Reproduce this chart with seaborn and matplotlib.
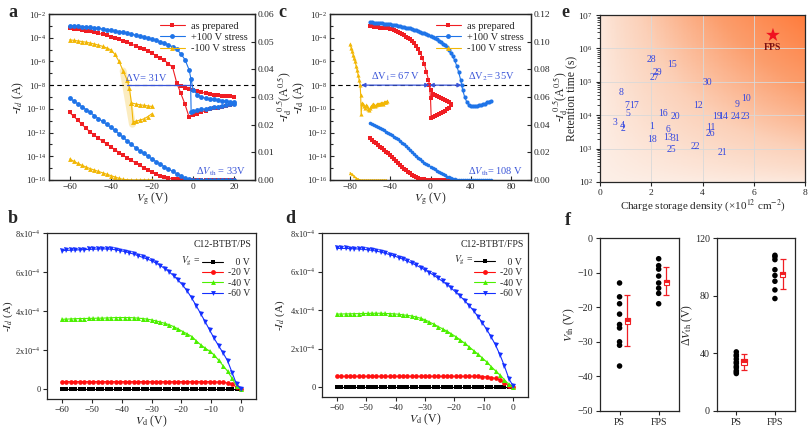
import numpy as np
import pandas as pd
import matplotlib
matplotlib.use("Agg")
import matplotlib.pyplot as plt
import seaborn as sns
from matplotlib.lines import Line2D
from matplotlib.patches import Rectangle
from matplotlib.colors import LinearSegmentedColormap
from matplotlib.ticker import FixedLocator, NullFormatter

sns.set_style("ticks")
plt.rcParams["font.family"] = ["Liberation Serif", "DejaVu Serif"]
plt.rcParams["mathtext.fontset"] = "stix"
plt.rcParams["font.size"] = 7.5

RED = "#f01e23"
BLUE = "#1f74e8"
YEL = "#f2b705"
GRN = "#4cf000"
TXTBLUE = "#3a55d8"
TICK = 6.8

# ---------------- panel a (transfer, PS) ----------------
A_VG = [-60, -58, -56, -54, -52, -50, -48, -46, -44, -42, -40, -38, -36, -34, -32, -30, -28, -26, -24, -22,
        -20, -18, -16, -14, -12, -10, -8, -6, -4, -2, 0, 2, 4, 6, 8, 10, 12, 14, 16, 18, 20]
A_RED_LOG = [-3.20, -3.24, -3.29, -3.34, -3.40, -3.47, -3.55, -3.63, -3.72, -3.81, -3.92, -4.03, -4.15, -4.27,
             -4.40, -4.54, -4.68, -4.83, -4.98, -5.14, -5.32, -5.50, -5.70, -5.92, -6.18, -6.50, -7.80, -8.70,
             -9.60, -10.70, -10.55, -10.40, -10.25, -10.15, -10.05, -9.95, -9.90, -9.85, -9.78, -9.70, -9.62]
A_RED_BWD_VG = [20, 18, 16, 14, 12, 10, 8, 6, 4, 2, 0, -2, -4, -6, -8]
A_RED_BWD_LOG = [-8.96, -8.94, -8.92, -8.88, -8.85, -8.80, -8.75, -8.68, -8.60, -8.50, -8.40, -8.30, -8.20, -8.10, -7.80]
A_BLUE_LOG = [-2.98, -3.00, -3.03, -3.06, -3.09, -3.13, -3.17, -3.21, -3.26, -3.31, -3.37, -3.43, -3.49, -3.56,
              -3.63, -3.70, -3.78, -3.86, -3.95, -4.04, -4.13, -4.23, -4.34, -4.46, -4.60, -4.76, -4.98, -5.35,
              -5.85, -6.70, -8.40, -8.80, -9.00, -9.10, -9.15, -9.20, -9.25, -9.30, -9.35, -9.40, -9.45]
A_BLUE_BWD_VG = [20, 18, 16, 14, 12, 10, 8, 6, 4, 2, 0, -1, -1.3]
A_BLUE_BWD_LOG = [-9.55, -9.62, -9.70, -9.76, -9.82, -9.88, -9.94, -10.00, -10.05, -10.12, -10.20, -10.25, -7.5]
A_YEL_VG = [-60, -58, -56, -54, -52, -50, -48, -46, -44, -42, -40, -38, -36, -34, -32, -31, -30, -29.2,
            -28, -26, -24, -22, -20]
A_YEL_LOG = [-4.18, -4.22, -4.27, -4.32, -4.38, -4.45, -4.53, -4.62, -4.73, -4.86, -5.02, -5.40, -6.00, -6.80,
             -7.60, -8.20, -9.50, -11.10, -11.05, -10.95, -10.85, -10.65, -10.40]
A_YEL_BWD_VG = [-20, -22, -24, -26, -28, -30]
A_YEL_BWD_LOG = [-9.80, -9.75, -9.70, -9.65, -9.58, -9.50]
A_RED_SQRT = [.0244, .0230, .0216, .0201, .0187, .0173, .0162, .0151, .0140, .0130, .0120, .0110, .0099, .0089,
              .0080, .0071, .0062, .0053, .0044, .0036, .0029, .0022, .0016, .0011, .0007, .0005, .0003, .0002,
              .0001, 0, 0, 0, 0, 0, 0, 0, 0, 0, 0, 0, 0]
A_BLUE_SQRT = [.0296, .0286, .0275, .0265, .0254, .0244, .0233, .0222, .0212, .0201, .0191, .0179, .0167, .0154,
               .0141, .0129, .0117, .0106, .0096, .0086, .0076, .0066, .0057, .0048, .0040, .0031, .0023, .0015,
               .0007, .0002, 0, 0, 0, 0, 0, 0, 0, 0, 0, 0, 0]
A_YEL_SQRT_VG = [-60, -58, -56, -54, -52, -50, -48, -46, -44, -42, -40, -38, -36, -34, -32, -30, -28, -26, -24, -22, -20]
A_YEL_SQRT = [.0076, .0068, .0060, .0053, .0047, .0041, .0036, .0031, .0026, .0021, .0016, .0011, .0006, .0002,
              .0001, 0, 0, 0, 0, 0, 0]

# ---------------- panel c (transfer, FPS) ----------------
C_RED_VG = [-60, -58, -56, -54, -52, -50, -48, -46, -44, -42, -40, -38, -36, -34, -32, -30, -28, -26, -24, -22,
            -20, -18, -16, -14, -12, -10, -8, -6, -4, -2, -1, 0, 0.7, 2, 4, 6, 8, 10, 12, 14, 16, 18, 20]
C_RED_LOG = [-3.00, -3.03, -3.06, -3.09, -3.12, -3.14, -3.16, -3.18, -3.20, -3.22, -3.25, -3.30, -3.36, -3.43,
             -3.51, -3.60, -3.68, -3.78, -3.90, -4.00, -4.12, -4.30, -4.48, -4.68, -4.95, -5.25, -5.75, -6.25,
             -6.90, -7.55, -8.00, -9.10, -10.75, -10.70, -10.60, -10.50, -10.42, -10.35, -10.25, -10.15, -10.05,
             -9.90, -9.70]
C_RED_BWD_VG = [20, 18, 16, 14, 12, 10, 8, 6, 4, 2, 0, -1]
C_RED_BWD_LOG = [-9.60, -9.45, -9.35, -9.25, -9.17, -9.10, -9.02, -8.93, -8.85, -8.72, -8.40, -8.00]
C_BLUE_VG = [-60, -58, -56, -54, -52, -50, -48, -46, -44, -42, -40, -38, -36, -34, -32, -30, -28, -26, -24, -22,
             -20, -18, -16, -14, -12, -10, -8, -6, -4, -2, 0, 2, 4, 6, 8, 10, 12, 14, 16, 18, 20, 22, 24, 26,
             28, 30, 31, 32, 34, 36, 38, 40, 42, 44, 46, 48, 50, 52, 54, 56, 58, 60]
C_BLUE_LOG = [-2.70, -2.71, -2.72, -2.73, -2.75, -2.77, -2.79, -2.81, -2.83, -2.85, -2.87, -2.90, -2.93, -2.96,
              -2.99, -3.02, -3.06, -3.10, -3.14, -3.17, -3.20, -3.25, -3.31, -3.37, -3.43, -3.50, -3.57, -3.64,
              -3.71, -3.78, -3.85, -3.94, -4.04, -4.14, -4.25, -4.37, -4.50, -4.65, -4.82, -5.02, -5.25, -5.55,
              -5.90, -6.35, -6.90, -7.55, -8.00, -8.40, -9.00, -9.40, -9.65, -9.75, -9.78, -9.75, -9.72, -9.70,
              -9.65, -9.62, -9.55, -9.45, -9.38, -9.30]
C_YEL_VG = [-80, -79, -78, -77, -76, -75, -74, -73, -72, -71, -70, -69.5, -69, -68, -67, -66, -65, -64, -63, -62,
            -61, -60, -59, -58, -57, -56, -55, -54, -53, -52, -51, -50, -49, -48, -47, -46, -45, -44, -43]
C_YEL_LOG = [-4.55, -4.85, -5.15, -5.45, -5.75, -6.00, -6.40, -6.75, -7.15, -7.55, -8.00, -8.80, -10.45, -9.50,
             -9.60, -9.75, -9.95, -9.70, -9.80, -10.05, -10.10, -9.95, -9.80, -9.75, -9.55, -9.65, -9.80, -9.70,
             -9.60, -9.55, -9.60, -9.55, -9.50, -9.50, -9.55, -9.45, -9.40, -9.42, -9.35]
C_BLUE_SQRT_VG = [-60, -58, -56, -54, -52, -50, -48, -46, -44, -42, -40, -38, -36, -34, -32, -30, -28, -26, -24,
                  -22, -20, -18, -16, -14, -12, -10, -8, -6, -4, -2, 0, 2, 4, 6, 8, 10, 12, 14, 16, 18, 20, 22,
                  24, 26, 28, 30, 32, 34, 36, 38, 40, 42, 44, 46, 48, 50, 52, 54, 56, 58, 60]
C_BLUE_SQRT = [.0414, .0406, .0398, .0390, .0382, .0375, .0367, .0359, .0350, .0341, .0332, .0323, .0314, .0306,
               .0295, .0283, .0270, .0257, .0243, .0229, .0214, .0200, .0187, .0174, .0162, .0150, .0137, .0125,
               .0114, .0105, .0097, .0087, .0077, .0067, .0058, .0049, .0041, .0033, .0025, .0019, .0013, .0008,
               .0004, .0002, .0001, 0, 0, 0, 0, 0, 0, 0, 0, 0, 0, 0, 0, 0, 0, 0, 0]
C_RED_SQRT_VG = [-60, -58, -56, -54, -52, -50, -48, -46, -44, -42, -40, -38, -36, -34, -32, -30, -28, -26, -24,
                 -22, -20, -18, -16, -14, -12, -10, -8, -6, -4, -2, 0, 2, 4, 6, 8, 10, 12, 14, 16, 18, 20]
C_RED_SQRT = [.0301, .0289, .0277, .0265, .0253, .0241, .0229, .0217, .0205, .0193, .0181, .0166, .0151, .0137,
              .0123, .0109, .0096, .0083, .0070, .0058, .0047, .0038, .0030, .0022, .0015, .0010, .0007, .0005,
              .0003, .0002, .0001, 0, 0, 0, 0, 0, 0, 0, 0, 0, 0]
C_YEL_SQRT_VG = [-80, -78, -76, -74, -72, -70, -68, -66, -64, -62, -60, -58, -56, -54, -52, -50, -48, -46, -44]
C_YEL_SQRT = [.0053, .0040, .0026, .0014, .0006, .0001, 0, 0, 0, 0, 0, 0, 0, 0, 0, 0, 0, 0, 0]

# ---------------- panel e (benchmark) ----------------
E_LABELS = ["28", "15", "29", "27", "30", "8", "10", "7", "17", "12", "9", "5", "16", "20", "19", "14", "24", "23",
            "3", "4", "2", "1", "6", "11", "26", "13", "31", "18", "22", "25", "21"]
E_X = [2.0, 2.82, 2.23, 2.14, 4.2, 0.84, 5.71, 1.06, 1.32, 3.83, 5.34, 1.1, 2.44, 2.93, 4.57, 4.8, 5.29, 5.68,
       0.58, 0.88, 0.88, 2.01, 2.64, 4.31, 4.31, 2.64, 2.95, 2.05, 3.74, 2.79, 4.78]
E_Y = [4.5e5, 3.4e5, 1.9e5, 1.35e5, 9.3e4, 4.8e4, 3.2e4, 1.9e4, 1.9e4, 1.95e4, 2.1e4, 1.1e4, 1.12e4, 9.3e3,
       9.3e3, 9.3e3, 9.3e3, 9.3e3, 5.9e3, 4.8e3, 4.0e3, 4.7e3, 3.8e3, 4.2e3, 2.8e3, 2.2e3, 2.0e3, 1.9e3,
       1.17e3, 9.5e2, 7.6e2]
E_FPS_X = [6.75]
E_FPS_Y = [2.5e6]

# ---------------- panels b, d (output curves) ----------------
VD = [-60, -58.5, -57, -55.5, -54, -52.5, -51, -49.5, -48, -46.5, -45, -43.5, -42, -40.5, -39, -37.5, -36, -34.5,
      -33, -31.5, -30, -28.5, -27, -25.5, -24, -22.5, -21, -19.5, -18, -16.5, -15, -13.5, -12, -10.5, -9, -7.5,
      -6, -4.5, -3, -1.5, 0]
B_60 = [7.10, 7.11, 7.12, 7.13, 7.14, 7.15, 7.16, 7.17, 7.18, 7.19, 7.18, 7.17, 7.14, 7.10, 7.05, 6.99, 6.92,
        6.84, 6.75, 6.67, 6.58, 6.46, 6.33, 6.17, 6.00, 5.80, 5.57, 5.32, 5.02, 4.66, 4.27, 3.86, 3.45, 3.02,
        2.60, 2.22, 1.85, 1.45, 0.85, 0.25, 0.0]
B_40 = [3.58, 3.59, 3.60, 3.61, 3.62, 3.62, 3.63, 3.63, 3.64, 3.64, 3.65, 3.66, 3.67, 3.67, 3.67, 3.67, 3.66,
        3.64, 3.62, 3.59, 3.55, 3.50, 3.44, 3.37, 3.30, 3.20, 3.08, 2.95, 2.83, 2.70, 2.48, 2.27, 2.10, 1.95,
        1.75, 1.48, 1.20, 0.92, 0.55, 0.18, 0.0]
B_20 = [0.39, 0.39, 0.39, 0.39, 0.39, 0.39, 0.39, 0.39, 0.39, 0.39, 0.39, 0.39, 0.39, 0.39, 0.39, 0.39, 0.39,
        0.39, 0.39, 0.39, 0.39, 0.39, 0.39, 0.39, 0.39, 0.39, 0.39, 0.39, 0.39, 0.39, 0.39, 0.39, 0.39, 0.39,
        0.38, 0.37, 0.35, 0.32, 0.27, 0.10, 0.0]
B_0 = [0.0] * 41
D_60 = [7.20, 7.20, 7.20, 7.19, 7.18, 7.17, 7.15, 7.13, 7.10, 7.06, 7.01, 6.95, 6.88, 6.81, 6.73, 6.64, 6.54,
        6.44, 6.33, 6.21, 6.08, 5.95, 5.81, 5.65, 5.49, 5.32, 5.13, 4.93, 4.72, 4.49, 4.24, 3.97, 3.67, 3.34,
        2.99, 2.61, 2.18, 1.68, 1.10, 0.45, 0.05]
D_40 = [3.80, 3.80, 3.81, 3.81, 3.82, 3.82, 3.83, 3.83, 3.84, 3.84, 3.84, 3.83, 3.82, 3.81, 3.79, 3.76, 3.73,
        3.70, 3.65, 3.58, 3.50, 3.39, 3.27, 3.15, 3.03, 2.91, 2.77, 2.62, 2.46, 2.28, 2.10, 1.91, 1.72, 1.52,
        1.31, 1.08, 0.85, 0.63, 0.40, 0.15, 0.02]
D_20 = [0.57, 0.57, 0.57, 0.57, 0.57, 0.57, 0.57, 0.57, 0.57, 0.57, 0.57, 0.57, 0.57, 0.57, 0.57, 0.57, 0.57,
        0.57, 0.57, 0.57, 0.57, 0.57, 0.57, 0.57, 0.57, 0.57, 0.57, 0.57, 0.57, 0.57, 0.57, 0.57, 0.57, 0.56,
        0.54, 0.51, 0.46, 0.38, 0.24, 0.08, 0.0]
D_0 = [0.0] * 41

# ---------------- panel f (statistics) ----------------
F_VTH_PS = [-13, -17, -19, -22, -25, -26, -30, -31, -37]
F_VTH_FPS = [-6, -8, -9, -11, -13, -14.5, -16, -19]
F_DVTH_PS = [41, 39, 38, 36, 34, 33, 31, 30, 28, 27, 26]
F_DVTH_FPS = [108, 107, 105, 98, 94, 90, 84, 78]
F_VTH_BOX = [(-24.9, -23.2, -31.3, -16.5), (-13.5, -12.1, -16.6, -8.4)]
F_DVTH_BOX = [(32.2, 36.1, 28.4, 39.2), (92.8, 96.7, 84.4, 105.4)]

fig = plt.figure(figsize=(8.1, 4.28), dpi=100)


def pos(l, t, r, b):
    W, H = 810.0, 428.0
    return [l / W, 1 - b / H, (r - l) / W, (b - t) / H]


def curve(ax, x, y, color, marker, ms, lw=0.8, alpha=1.0):
    sns.lineplot(x=np.asarray(x, float), y=np.asarray(y, float), ax=ax, color=color, marker=marker,
                 markersize=ms, markeredgewidth=0, linewidth=lw, sort=False, estimator=None,
                 legend=False, alpha=alpha)


def pw(v):
    return 10.0 ** np.asarray(v, float)


def transfer_axes(ax, xlim, xticks, rlim, rticks):
    ax.set_yscale("log")
    ax.set_ylim(1e-16, 1e-2)
    ax.set_xlim(*xlim)
    ax.set_xticks(xticks)
    ax.set_yticks([10.0 ** k for k in range(-16, -1, 2)])
    ax.yaxis.set_minor_locator(FixedLocator([10.0 ** k for k in range(-16, -1)]))
    ax.yaxis.set_minor_formatter(NullFormatter())
    ax.tick_params(direction="in", which="both", labelsize=TICK, length=3, width=0.8, pad=2)
    ax.tick_params(axis="y", labelsize=6.3)
    ax.tick_params(which="minor", length=1.8)
    ax2 = ax.twinx()
    ax2.set_ylim(*rlim)
    ax2.set_yticks(rticks)
    ax2.yaxis.set_major_formatter(matplotlib.ticker.FormatStrFormatter("%.2f"))
    ax2.tick_params(direction="in", labelsize=TICK, length=3, width=0.8, pad=2)
    for a in (ax, ax2):
        for s in a.spines.values():
            s.set_linewidth(0.9)
    return ax2


def legend_tr(ax):
    hs = [Line2D([], [], color=RED, marker="s", ms=3.5, lw=0.8, mew=0),
          Line2D([], [], color=BLUE, marker="o", ms=3.5, lw=0.8, mew=0),
          Line2D([], [], color=YEL, marker="^", ms=3.5, lw=0.8, mew=0)]
    ax.legend(hs, ["as prepared", "+100 V stress", "-100 V stress"], loc="upper right", frameon=False,
              fontsize=7.5, handlelength=2.4, labelspacing=0.2, borderaxespad=0.3, handletextpad=0.6)


# ===== panel a =====
axA = fig.add_axes(pos(49, 14, 255, 180))
axA2 = transfer_axes(axA, (-70, 30), [-60, -40, -20, 0, 20], (0, 0.06), [0, .01, .02, .03, .04, .05, .06])
axA.axhline(1e-8, color="k", ls=(0, (4, 3)), lw=0.8)
axA.plot([-34, -29.5], [10 ** -6.8, 10 ** -11.3], color=YEL, alpha=0.25, lw=5, solid_capstyle="round")
curve(axA, A_VG, pw(A_RED_LOG), RED, "s", 3.2)
curve(axA, A_RED_BWD_VG, pw(A_RED_BWD_LOG), RED, "s", 3.2)
curve(axA, A_VG, pw(A_BLUE_LOG), BLUE, "o", 3.5)
curve(axA, A_BLUE_BWD_VG, pw(A_BLUE_BWD_LOG), BLUE, "o", 3.5)
curve(axA, A_YEL_VG, pw(A_YEL_LOG), YEL, "^", 3.5)
curve(axA, A_YEL_BWD_VG, pw(A_YEL_BWD_LOG), YEL, "^", 3.5)
curve(axA2, A_VG, A_RED_SQRT, RED, "s", 3.2)
curve(axA2, A_VG, A_BLUE_SQRT, BLUE, "o", 3.5)
curve(axA2, A_YEL_SQRT_VG, A_YEL_SQRT, YEL, "^", 3.5)
axA.plot([-32, -1], [1e-8, 1e-8], color=TXTBLUE, lw=0.9)
axA.text(-32.5, 1.6e-8, "ΔV= 31V", color=TXTBLUE, fontsize=7.5, ha="left", va="bottom")
axA.text(1.5, 10 ** -15.85, r"Δ$V_{\rm th}$ = 33V", color=TXTBLUE, fontsize=7.5, ha="left", va="bottom")
axA.set_ylabel(r"-$I_d$ (A)", fontsize=8.5, labelpad=0)
axA.set_xlabel(r"$V_{\rm g}$ (V)", fontsize=8.5, labelpad=0)
axA2.set_ylabel(r"-$I_{\rm d}^{\ 0.5}$(A$^{0.5}$)", fontsize=8.5, labelpad=0)
legend_tr(axA2)

# ===== panel c =====
axC = fig.add_axes(pos(330, 14, 531, 180))
axC2 = transfer_axes(axC, (-100, 100), [-80, -40, 0, 40, 80], (0, 0.12), [0, .02, .04, .06, .08, .10, .12])
axC.axhline(1e-8, color="k", ls=(0, (4, 3)), lw=0.8)
curve(axC, C_RED_VG, pw(C_RED_LOG), RED, "s", 2.6)
curve(axC, C_RED_BWD_VG, pw(C_RED_BWD_LOG), RED, "s", 2.6)
curve(axC, C_BLUE_VG, pw(C_BLUE_LOG), BLUE, "o", 3.0)
curve(axC, C_YEL_VG, pw(C_YEL_LOG), YEL, "^", 3.0)
curve(axC2, C_RED_SQRT_VG, C_RED_SQRT, RED, "s", 2.2)
curve(axC2, C_BLUE_SQRT_VG, C_BLUE_SQRT, BLUE, "o", 2.6)
curve(axC2, C_YEL_SQRT_VG, C_YEL_SQRT, YEL, "^", 2.4)
arr = dict(arrowstyle="<|-|>", color=TXTBLUE, lw=0.9, mutation_scale=6, shrinkA=0, shrinkB=0)
axC.annotate("", xy=(-1, 1e-8), xytext=(-69, 1e-8), arrowprops=arr)
axC.annotate("", xy=(31, 1e-8), xytext=(-1, 1e-8), arrowprops=arr)
axC.text(-59, 1.6e-8, r"ΔV$_1$= 67 V", color=TXTBLUE, fontsize=7.5, ha="left", va="bottom")
axC.text(37, 1.6e-8, r"ΔV$_2$= 35V", color=TXTBLUE, fontsize=7.5, ha="left", va="bottom")
axC.text(37, 10 ** -15.85, r"Δ$V_{\rm th}$= 108 V", color=TXTBLUE, fontsize=7.5, ha="left", va="bottom")
axC.set_ylabel(r"-$I_{\rm d}$ (A)", fontsize=8.5, labelpad=0)
axC.set_xlabel(r"$V_{\rm g}$ (V)", fontsize=8.5, labelpad=0)
axC2.set_ylabel(r"-$I_{\rm d}^{\ 0.5}$(A$^{0.5}$)", fontsize=8.5, labelpad=0)
legend_tr(axC2)

# ===== panel e =====
axE = fig.add_axes(pos(600, 15, 805, 182))
axE.set_yscale("log")
gx = np.linspace(0, 8, 160)
gy = np.logspace(2, 7, 160)
U, V = np.meshgrid(gx / 8.0, (np.log10(gy) - 2) / 5.0)
T = np.clip(0.85 * (U * V) ** 0.75 + 0.14 * (U + V) / 2, 0, 1)
cmap = LinearSegmentedColormap.from_list("bg", ["#fcefe7", "#fbd0b8", "#fb9d6c", "#ff7a3a"])
axE.pcolormesh(gx, gy, T, cmap=cmap, shading="auto", zorder=0, rasterized=True, vmin=0, vmax=1)
axE.set_xlim(0, 8)
axE.set_ylim(1e2, 1e7)
axE.set_xticks([0, 2, 4, 6, 8])
axE.set_yticks([1e2, 1e3, 1e4, 1e5, 1e6, 1e7])
axE.yaxis.set_minor_formatter(NullFormatter())
axE.grid(True, color="#d9d9d9", lw=0.6, zorder=0.5)
for lab, x, y in zip(E_LABELS, E_X, E_Y):
    axE.text(x, y, lab, color="#3347e0", fontsize=7, ha="center", va="center", zorder=3)
sns.scatterplot(x=E_FPS_X, y=E_FPS_Y, ax=axE, marker="*", s=110, color="#f01020", edgecolor="none", zorder=4,
                legend=False)
axE.text(6.72, 1.05e6, "FPS", color="#7a1010", fontsize=7, fontweight="bold", ha="center", va="center")
axE.tick_params(labelsize=TICK, length=3, width=0.8, direction="out", pad=2)
axE.set_ylabel("Retention time (s)", fontsize=8.5, labelpad=0)
axE.set_xlabel(r"Charge storage density (×10$^{12}$ cm$^{-2}$)", fontsize=8, labelpad=0)
for s in axE.spines.values():
    s.set_linewidth(0.9)


# ===== panels b, d =====
def output_panel(ax, y0, y20, y40, y60, title, label_x):
    curve(ax, VD, np.array(y0) * 1e-4, "k", "s", 3.2)
    curve(ax, VD, np.array(y20) * 1e-4, "#ff1010", "o", 3.4)
    curve(ax, VD, np.array(y40) * 1e-4, GRN, "^", 3.6)
    curve(ax, VD, np.array(y60) * 1e-4, "#1530ff", "v", 3.6)
    ax.set_xlim(-65, 5)
    ax.set_ylim(-0.5e-4, 8e-4)
    ax.set_xticks([-60, -50, -40, -30, -20, -10, 0])
    ax.set_yticks([0, 2e-4, 4e-4, 6e-4, 8e-4])
    ax.set_yticklabels(["0", r"2x10$^{-4}$", r"4x10$^{-4}$", r"6x10$^{-4}$", r"8x10$^{-4}$"])
    ax.tick_params(labelsize=TICK, length=3, width=0.8, direction="out", pad=2)
    ax.tick_params(axis="y", labelsize=6.0, pad=1.5)
    for s in ax.spines.values():
        s.set_visible(True)
        s.set_linewidth(0.9)
    ax.set_ylabel(r"-$I_d$ (A)", fontsize=8)
    ax.yaxis.set_label_coords(label_x, 0.5)
    ax.set_xlabel(r"$V_{\rm d}$ (V)", fontsize=8.5, labelpad=0)
    ax.text(0.98, 0.955, title, transform=ax.transAxes, ha="right", va="top", fontsize=7)
    ax.text(0.64, 0.83, r"$V_{\rm g}$ =", transform=ax.transAxes, ha="left", va="center", fontsize=7)
    hs = [Line2D([], [], color="k", marker="s", ms=3.5, lw=0.8, mew=0),
          Line2D([], [], color="#ff1010", marker="o", ms=3.5, lw=0.8, mew=0),
          Line2D([], [], color=GRN, marker="^", ms=3.5, lw=0.8, mew=0),
          Line2D([], [], color="#1530ff", marker="v", ms=3.5, lw=0.8, mew=0)]
    ax.legend(hs, ["   0 V", "-20 V", "-40 V", "-60 V"], loc="upper right", bbox_to_anchor=(1.0, 0.885),
              frameon=False, fontsize=7, handlelength=2.1, labelspacing=0.15, handletextpad=0.5,
              borderaxespad=0.2)


axB = fig.add_axes(pos(47, 233, 256, 399))
output_panel(axB, B_0, B_20, B_40, B_60, "C12-BTBT/PS", -0.155)
axD = fig.add_axes(pos(322, 233, 528, 397))
output_panel(axD, D_0, D_20, D_40, D_60, "C12-BTBT/FPS", -0.17)


# ===== panel f =====
def stat_panel(ax, ps, fps, boxes, ylim, yticks, ylabel):
    df = pd.DataFrame({"x": [1.0] * len(ps) + [2.0] * len(fps), "y": list(ps) + list(fps)})
    sns.scatterplot(data=df, x="x", y="y", ax=ax, color="k", s=16, edgecolor="none", legend=False, zorder=3)
    for xc, (lo, hi, elo, ehi) in zip([1.2, 2.2], boxes):
        mid = (lo + hi) / 2
        ax.errorbar([xc], [mid], yerr=[[mid - elo], [ehi - mid]], color=RED, lw=0.9, capsize=2.5,
                    capthick=0.9, fmt="none", zorder=2)
        ax.add_patch(Rectangle((xc - 0.07, lo), 0.14, hi - lo, facecolor="white", edgecolor=RED, lw=0.8,
                               zorder=4))
        ax.add_patch(Rectangle((xc - 0.07, mid), 0.14, hi - mid, facecolor=RED, edgecolor=RED, lw=0.8,
                               zorder=5))
    ax.set_xlim(0.5, 2.52)
    ax.set_ylim(*ylim)
    ax.set_yticks(yticks)
    ax.set_xticks([1, 2])
    ax.set_xticklabels(["PS", "FPS"])
    ax.set_xlabel("")
    ax.set_ylabel(ylabel, fontsize=8.5, labelpad=0)
    ax.tick_params(labelsize=TICK + 0.4, length=3, width=0.8, direction="out", pad=2)
    for s in ax.spines.values():
        s.set_visible(True)
        s.set_linewidth(0.9)


axF1 = fig.add_axes(pos(600, 238, 679, 411))
stat_panel(axF1, F_VTH_PS, F_VTH_FPS, F_VTH_BOX, (-50, 0), [-50, -40, -30, -20, -10, 0], r"$V_{\rm th}$ (V)")
axF2 = fig.add_axes(pos(717, 238, 795, 411))
stat_panel(axF2, F_DVTH_PS, F_DVTH_FPS, F_DVTH_BOX, (0, 120), [0, 40, 80, 120], r"Δ$V_{\rm th}$ (V)")

# panel letters
for letter, x, y in [("a", 8, 4), ("c", 278, 4), ("e", 561, 4), ("b", 8, 210), ("d", 285, 210), ("f", 565, 212)]:
    fig.text(x / 810.0, 1 - y / 428.0, letter, fontsize=13, fontweight="bold", ha="left", va="top")

fig.savefig("out.png", dpi=100)
